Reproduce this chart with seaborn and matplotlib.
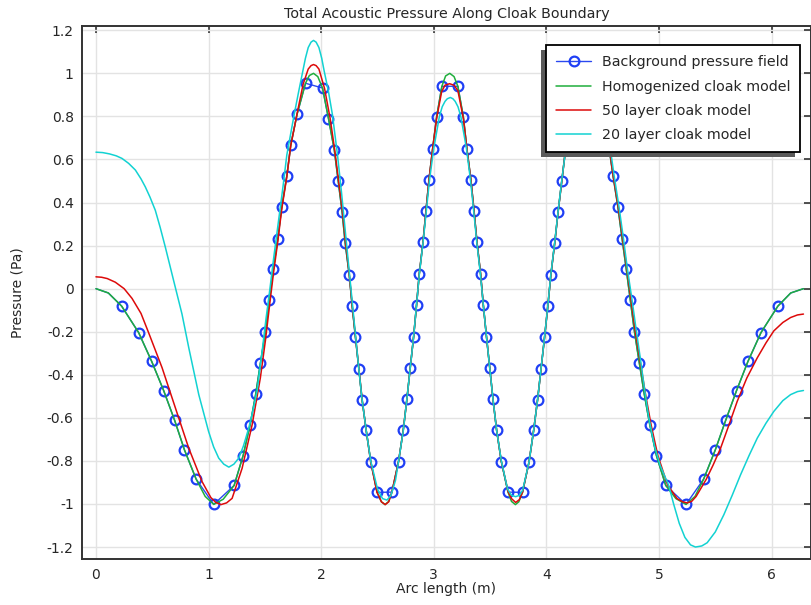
import numpy as np
import pandas as pd
import matplotlib
matplotlib.use('Agg')
import matplotlib.pyplot as plt
import seaborn as sns
from matplotlib.patches import Rectangle

# --- data ---
bg_x = [0.0, 0.11, 0.228, 0.379, 0.495, 0.601, 0.699, 0.786, 0.889, 1.046, 1.227, 1.307,
        1.369, 1.419, 1.461, 1.505, 1.540, 1.576, 1.615, 1.650, 1.695, 1.730, 1.787,
        1.861, 2.012, 2.065, 2.116, 2.151, 2.186, 2.213, 2.249, 2.275, 2.304, 2.334,
        2.363, 2.400, 2.441, 2.497, 2.628, 2.687, 2.729, 2.761, 2.791, 2.821, 2.847,
        2.871, 2.904, 2.930, 2.957, 2.990, 3.025, 3.072, 3.214, 3.263, 3.294, 3.330,
        3.358, 3.384, 3.416, 3.440, 3.468, 3.497, 3.526, 3.558, 3.600, 3.659, 3.788,
        3.846, 3.887, 3.922, 3.953, 3.984, 4.013, 4.040, 4.074, 4.104, 4.137, 4.170,
        4.220, 4.272, 4.423, 4.497, 4.553, 4.592, 4.635, 4.672, 4.709, 4.745, 4.782,
        4.825, 4.869, 4.918, 4.977, 5.060, 5.240, 5.397, 5.500, 5.592, 5.689, 5.790,
        5.906, 6.056, 6.170, 6.283]
bg_y = [0.0, -0.020, -0.081, -0.204, -0.338, -0.473, -0.612, -0.749, -0.884, -1.002, -0.914, -0.775,
        -0.632, -0.489, -0.344, -0.199, -0.052, 0.092, 0.233, 0.380, 0.524, 0.668, 0.812,
        0.954, 0.932, 0.790, 0.646, 0.501, 0.356, 0.212, 0.065, -0.080, -0.225, -0.371,
        -0.515, -0.658, -0.805, -0.946, -0.945, -0.803, -0.657, -0.514, -0.367, -0.223, -0.076,
        0.068, 0.215, 0.359, 0.504, 0.650, 0.797, 0.940, 0.940, 0.797, 0.650, 0.504,
        0.359, 0.215, 0.068, -0.076, -0.223, -0.367, -0.514, -0.657, -0.803, -0.945, -0.946,
        -0.805, -0.658, -0.515, -0.371, -0.225, -0.080, 0.065, 0.212, 0.356, 0.501, 0.646,
        0.790, 0.932, 0.954, 0.812, 0.668, 0.524, 0.380, 0.233, 0.092, -0.052, -0.199,
        -0.344, -0.489, -0.632, -0.775, -0.914, -1.002, -0.884, -0.749, -0.612, -0.473, -0.338,
        -0.204, -0.081, -0.020, 0.0]

hom_x = [0.0, 0.11, 0.228, 0.379, 0.495, 0.601, 0.699, 0.786, 0.889, 0.97, 1.046, 1.13,
         1.227, 1.307, 1.369, 1.419, 1.461, 1.505, 1.540, 1.576, 1.615, 1.650, 1.695,
         1.730, 1.787, 1.861, 1.895, 1.932, 1.97, 2.012, 2.065, 2.116, 2.151, 2.186,
         2.213, 2.249, 2.275, 2.304, 2.334, 2.363, 2.400, 2.441, 2.497, 2.535, 2.567,
         2.600, 2.628, 2.687, 2.729, 2.761, 2.791, 2.821, 2.847, 2.871, 2.904, 2.930,
         2.957, 2.990, 3.025, 3.072, 3.105, 3.142, 3.180, 3.214, 3.263, 3.294, 3.330,
         3.358, 3.384, 3.416, 3.440, 3.468, 3.497, 3.526, 3.558, 3.600, 3.659, 3.690,
         3.725, 3.755, 3.788, 3.846, 3.887, 3.922, 3.953, 3.984, 4.013, 4.040, 4.074,
         4.104, 4.137, 4.170, 4.220, 4.272, 4.313, 4.352, 4.390, 4.423, 4.497, 4.553,
         4.592, 4.635, 4.672, 4.709, 4.745, 4.782, 4.825, 4.869, 4.918, 4.977, 5.060,
         5.150, 5.240, 5.320, 5.397, 5.500, 5.592, 5.689, 5.790, 5.906, 6.056, 6.170,
         6.283]
hom_y = [0.0, -0.020, -0.081, -0.204, -0.338, -0.473, -0.612, -0.749, -0.884, -0.965, -1.002, -0.978,
         -0.914, -0.775, -0.632, -0.489, -0.344, -0.199, -0.052, 0.092, 0.233, 0.380, 0.524,
         0.668, 0.812, 0.954, 0.990, 1.000, 0.985, 0.932, 0.790, 0.646, 0.501, 0.356,
         0.212, 0.065, -0.080, -0.225, -0.371, -0.515, -0.658, -0.805, -0.946, -0.990, -1.003,
         -0.988, -0.945, -0.803, -0.657, -0.514, -0.367, -0.223, -0.076, 0.068, 0.215, 0.359,
         0.504, 0.650, 0.797, 0.940, 0.988, 1.000, 0.985, 0.940, 0.797, 0.650, 0.504,
         0.359, 0.215, 0.068, -0.076, -0.223, -0.367, -0.514, -0.657, -0.803, -0.945, -0.988,
         -1.003, -0.990, -0.946, -0.805, -0.658, -0.515, -0.371, -0.225, -0.080, 0.065, 0.212,
         0.356, 0.501, 0.646, 0.790, 0.932, 0.988, 1.000, 0.988, 0.954, 0.812, 0.668,
         0.524, 0.380, 0.233, 0.092, -0.052, -0.199, -0.344, -0.489, -0.632, -0.775, -0.914,
         -0.975, -1.002, -0.965, -0.884, -0.749, -0.612, -0.473, -0.338, -0.204, -0.081, -0.020,
         0.0]

l50_x = [0.0, 0.05, 0.10, 0.172, 0.25, 0.32, 0.40, 0.468, 0.587, 0.705, 0.824, 0.942, 1.02,
         1.065, 1.11, 1.16, 1.209, 1.298, 1.387, 1.46, 1.505, 1.54, 1.576, 1.615, 1.65, 1.695,
         1.73, 1.784, 1.84, 1.885, 1.91, 1.932, 1.955, 1.98, 2.03, 2.08, 2.12, 2.155, 2.19,
         2.218, 2.25, 2.276, 2.305, 2.335, 2.364, 2.40, 2.44, 2.495, 2.535, 2.569, 2.60,
         2.628, 2.687, 2.729, 2.761, 2.791, 2.821, 2.847, 2.871, 2.904, 2.93, 2.957, 2.99,
         3.025, 3.07, 3.10, 3.14, 3.18, 3.214, 3.263, 3.294, 3.33, 3.358, 3.384, 3.416,
         3.44, 3.468, 3.497, 3.526, 3.558, 3.60, 3.659, 3.69, 3.727, 3.76, 3.788, 3.846,
         3.887, 3.922, 3.953, 3.984, 4.013, 4.04, 4.074, 4.104, 4.137, 4.17, 4.22, 4.272,
         4.32, 4.35, 4.39, 4.43, 4.50, 4.555, 4.595, 4.64, 4.678, 4.716, 4.752, 4.79,
         4.835, 4.88, 4.93, 4.99, 5.075, 5.16, 5.21, 5.25, 5.29, 5.33, 5.42, 5.48, 5.547,
         5.62, 5.695, 5.78, 5.873, 5.95, 6.02, 6.10, 6.169, 6.23, 6.283]
l50_y = [0.055, 0.053, 0.047, 0.030, 0.000, -0.045, -0.115, -0.205, -0.367, -0.554, -0.741, -0.896, -0.970,
         -0.993, -1.003, -0.995, -0.974, -0.834, -0.632, -0.414, -0.240, -0.085, 0.070, 0.220, 0.370, 0.520,
         0.665, 0.808, 0.950, 1.020, 1.036, 1.041, 1.036, 1.020, 0.930, 0.790, 0.645, 0.500, 0.355,
         0.210, 0.065, -0.080, -0.225, -0.371, -0.515, -0.660, -0.805, -0.945, -0.990, -1.003, -0.990,
         -0.945, -0.803, -0.657, -0.514, -0.367, -0.223, -0.076, 0.068, 0.215, 0.359, 0.504, 0.650,
         0.790, 0.915, 0.945, 0.952, 0.945, 0.920, 0.790, 0.650, 0.504, 0.359, 0.215, 0.068,
         -0.076, -0.223, -0.367, -0.514, -0.657, -0.803, -0.940, -0.975, -0.993, -0.980, -0.945, -0.805,
         -0.658, -0.515, -0.371, -0.225, -0.080, 0.065, 0.212, 0.356, 0.500, 0.645, 0.790, 0.930,
         1.010, 1.035, 1.020, 0.960, 0.810, 0.665, 0.520, 0.375, 0.230, 0.090, -0.050, -0.200,
         -0.344, -0.489, -0.633, -0.775, -0.910, -0.975, -0.990, -0.995, -0.988, -0.965, -0.885, -0.820, -0.741,
         -0.635, -0.523, -0.415, -0.321, -0.252, -0.196, -0.157, -0.134, -0.122, -0.118]

l20_x = [0.0, 0.06, 0.12, 0.18, 0.231, 0.29, 0.35, 0.40, 0.438, 0.48, 0.527, 0.57,
         0.616, 0.655, 0.69, 0.735, 0.764, 0.824, 0.913, 0.96, 1.0, 1.045, 1.09, 1.135,
         1.18, 1.225, 1.268, 1.31, 1.357, 1.395, 1.431, 1.476, 1.51, 1.545, 1.58, 1.62,
         1.66, 1.695, 1.76, 1.80, 1.837, 1.86, 1.885, 1.91, 1.932, 1.955, 1.98, 2.005,
         2.027, 2.065, 2.10, 2.145, 2.18, 2.21, 2.24, 2.27, 2.30, 2.33, 2.36, 2.40,
         2.44, 2.50, 2.545, 2.584, 2.62, 2.66, 2.687, 2.729, 2.761, 2.791, 2.821, 2.847,
         2.872, 2.905, 2.933, 2.962, 3.0, 3.05, 3.075, 3.10, 3.12, 3.147, 3.17, 3.19,
         3.215, 3.24, 3.29, 3.326, 3.355, 3.382, 3.414, 3.44, 3.468, 3.497, 3.526, 3.558,
         3.60, 3.655, 3.69, 3.727, 3.76, 3.79, 3.846, 3.887, 3.922, 3.953, 3.984, 4.013,
         4.04, 4.074, 4.104, 4.137, 4.17, 4.22, 4.28, 4.33, 4.37, 4.42, 4.50, 4.56,
         4.60, 4.645, 4.685, 4.72, 4.76, 4.80, 4.836, 4.87, 4.91, 4.96, 5.01, 5.05,
         5.087, 5.13, 5.18, 5.23, 5.28, 5.324, 5.38, 5.428, 5.50, 5.576, 5.65, 5.724,
         5.80, 5.873, 5.95, 6.02, 6.10, 6.169, 6.23, 6.283]
l20_y = [0.634, 0.632, 0.626, 0.617, 0.605, 0.582, 0.551, 0.510, 0.473, 0.425, 0.364, 0.285,
         0.193, 0.110, 0.037, -0.056, -0.118, -0.274, -0.492, -0.585, -0.663, -0.735, -0.787, -0.815,
         -0.829, -0.815, -0.787, -0.730, -0.647, -0.565, -0.476, -0.289, -0.140, 0.000, 0.150, 0.310,
         0.470, 0.621, 0.808, 0.915, 1.010, 1.070, 1.120, 1.145, 1.153, 1.145, 1.120, 1.070,
         1.010, 0.915, 0.808, 0.621, 0.450, 0.290, 0.130, -0.030, -0.190, -0.350, -0.500, -0.660,
         -0.800, -0.930, -0.975, -0.982, -0.960, -0.890, -0.803, -0.660, -0.514, -0.367, -0.223, -0.076,
         0.068, 0.215, 0.359, 0.504, 0.652, 0.800, 0.845, 0.870, 0.882, 0.888, 0.882, 0.870,
         0.845, 0.800, 0.652, 0.504, 0.359, 0.215, 0.068, -0.076, -0.223, -0.370, -0.514, -0.657,
         -0.800, -0.930, -0.960, -0.966, -0.960, -0.935, -0.805, -0.658, -0.515, -0.370, -0.224, -0.079,
         0.068, 0.215, 0.359, 0.504, 0.640, 0.800, 0.950, 1.010, 1.020, 0.980, 0.830, 0.680,
         0.530, 0.380, 0.230, 0.090, -0.050, -0.200, -0.330, -0.460, -0.600, -0.730, -0.820, -0.870,
         -0.915, -1.000, -1.090, -1.155, -1.190, -1.200, -1.195, -1.180, -1.130, -1.050, -0.960, -0.865,
         -0.775, -0.694, -0.625, -0.570, -0.520, -0.492, -0.478, -0.473]

labels = ['Background pressure field', 'Homogenized cloak model',
          '50 layer cloak model', '20 layer cloak model']
colors = ['#2a48f0', '#1fae3c', '#dd0a0a', '#12d2d2']

sns.set_style('whitegrid')
plt.rcParams['font.family'] = ['DejaVu Sans']

fig = plt.figure(figsize=(8.11, 6.05), dpi=100)
ax = fig.add_axes([82 / 811, 1 - 559.3 / 605, 1 - 82 / 811, (559.3 - 26) / 605])

# markers on every point except the first two and last two line points
mark_idx = list(range(2, len(bg_x) - 2))
df_bg = pd.DataFrame({'x': bg_x, 'y': bg_y})
sns.lineplot(data=df_bg, x='x', y='y', ax=ax, sort=False, estimator=None,
             color=colors[0], linewidth=1.0, marker='o', markevery=mark_idx,
             markersize=7, markerfacecolor='none', markeredgecolor='#1f3ff5',
             markeredgewidth=1.6, label=labels[0])

for xs, ys, c, lab in [(hom_x, hom_y, colors[1], labels[1]),
                       (l50_x, l50_y, colors[2], labels[2]),
                       (l20_x, l20_y, colors[3], labels[3])]:
    d = pd.DataFrame({'x': xs, 'y': ys})
    sns.lineplot(data=d, x='x', y='y', ax=ax, sort=False, estimator=None,
                 color=c, linewidth=1.1, label=lab)

ax.set_xlim(-0.124, 6.35)
ax.set_ylim(-1.257, 1.22)
ax.set_xticks(range(0, 7))
yt = [-1.2, -1, -0.8, -0.6, -0.4, -0.2, 0, 0.2, 0.4, 0.6, 0.8, 1, 1.2]
ax.set_yticks(yt)
ax.set_yticklabels([f'{v:g}' for v in yt])
ax.grid(True, color='#e3e3e3', linewidth=1.0)
for s in ax.spines.values():
    s.set_color('#333333')
    s.set_linewidth(1.4)
ax.tick_params(direction='in', length=5, width=1.1, color='#222222',
               top=True, right=True, labelsize=10, pad=6)

ax.set_title('Total Acoustic Pressure Along Cloak Boundary', fontsize=10.3, pad=6)
ax.set_xlabel('Arc length (m)', fontsize=10, labelpad=0)
ax.set_ylabel('Pressure (Pa)', fontsize=10, labelpad=16)

leg = ax.legend(loc='upper right', bbox_to_anchor=(0.985, 0.964), borderaxespad=0,
                fontsize=10.3, frameon=True, fancybox=False, framealpha=1,
                edgecolor='black', handlelength=2.4, handletextpad=0.75,
                borderpad=0.7, labelspacing=0.72)
leg.get_frame().set_linewidth(1.3)
leg.set_zorder(10)

# offset drop shadow behind the legend box (left and below)
fig.canvas.draw()
bb = leg.get_window_extent().transformed(fig.transFigure.inverted())
shadow = Rectangle((bb.x0 - 5 / 811, bb.y0 - 5 / 605), bb.width, bb.height,
                   transform=fig.transFigure, facecolor='#5a5a5a', edgecolor='none',
                   zorder=9)
ax.add_artist(shadow)
shadow.set_clip_on(False)

fig.savefig('out.png', dpi=100)
